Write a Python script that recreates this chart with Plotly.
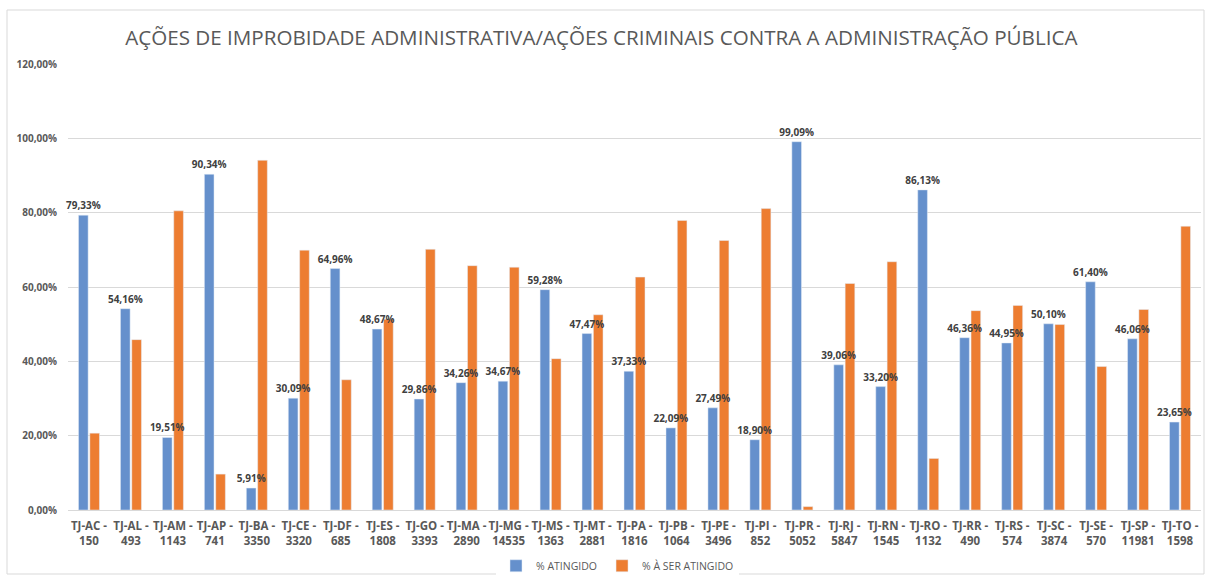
import plotly.graph_objects as go

categories = ["TJ-AC -<br>150", "TJ-AL -<br>493", "TJ-AM -<br>1143", "TJ-AP -<br>741", "TJ-BA -<br>3350",
              "TJ-CE -<br>3320", "TJ-DF -<br>685", "TJ-ES -<br>1808", "TJ-GO -<br>3393", "TJ-MA -<br>2890",
              "TJ-MG -<br>14535", "TJ-MS -<br>1363", "TJ-MT -<br>2881", "TJ-PA -<br>1816", "TJ-PB -<br>1064",
              "TJ-PE -<br>3496", "TJ-PI -<br>852", "TJ-PR -<br>5052", "TJ-RJ -<br>5847", "TJ-RN -<br>1545",
              "TJ-RO -<br>1132", "TJ-RR -<br>490", "TJ-RS -<br>574", "TJ-SC -<br>3874", "TJ-SE -<br>570",
              "TJ-SP -<br>11981", "TJ-TO -<br>1598"]
atingido = [79.33, 54.16, 19.51, 90.34, 5.91, 30.09, 64.96, 48.67, 29.86, 34.26, 34.67, 59.28, 47.47, 37.33,
            22.09, 27.49, 18.90, 99.09, 39.06, 33.20, 86.13, 46.36, 44.95, 50.10, 61.40, 46.06, 23.65]
a_ser = [20.67, 45.84, 80.49, 9.66, 94.09, 69.91, 35.04, 51.33, 70.14, 65.74, 65.33, 40.72, 52.53, 62.67,
         77.91, 72.51, 81.10, 0.91, 60.94, 66.80, 13.87, 53.64, 55.05, 49.90, 38.60, 53.94, 76.35]
y_ticks = [0, 20, 40, 60, 80, 100, 120]
y_tick_labels = ["0,00%", "20,00%", "40,00%", "60,00%", "80,00%", "100,00%", "120,00%"]

fig = go.Figure()
# orange drawn first so the blue labels sit on top of it
fig.add_trace(go.Bar(
    x=categories, y=a_ser, name="% À SER ATINGIDO", marker_color="#ED7D31",
    offset=0.02, width=0.23,
))
fig.add_trace(go.Bar(
    x=categories, y=atingido, name="% ATINGIDO", marker_color="#6590CC",
    offset=-0.25, width=0.23,
    texttemplate="%{y:.2f}%", textposition="outside", cliponaxis=False, constraintext="none",
    textfont=dict(family="Open Sans", size=10, color="#404040", weight="bold"),
))

fig.update_layout(
    width=1205, height=576,
    separators=",.",
    barmode="overlay",
    paper_bgcolor="white", plot_bgcolor="white",
    margin=dict(l=68, r=4, t=64, b=66, autoexpand=False),
    title=dict(text="AÇÕES DE IMPROBIDADE ADMINISTRATIVA/AÇÕES CRIMINAIS CONTRA A ADMINISTRAÇÃO PÚBLICA",
               x=0.499, xref="container", y=0.935, yref="container", xanchor="center", yanchor="middle",
               font=dict(family="Open Sans", size=20.6, color="#595959")),
    legend=dict(orientation="h", x=0.485, xanchor="center", y=-0.125, yanchor="middle",
                font=dict(family="Open Sans", size=10.5, color="#595959"),
                itemwidth=30, traceorder="reversed"),
    showlegend=True,
)
fig.update_yaxes(range=[0, 120], tickvals=y_ticks, ticktext=y_tick_labels,
                 showgrid=True, gridcolor="#D9D9D9", gridwidth=1, zeroline=False,
                 tickfont=dict(family="Open Sans", size=10, color="#595959", weight="bold"),
                 ticklabelstandoff=10, showline=False)
fig.update_xaxes(showline=True, linecolor="#D9D9D9", linewidth=1,
                 tickfont=dict(family="Open Sans", size=11.5, color="#595959", weight="bold"),
                 tickangle=0, ticks="", ticklabelstandoff=5)
fig.add_shape(type="rect", xref="paper", yref="paper",
              x0=-61/1133, x1=1+3/1133, y0=-64/446, y1=1+54/446,
              line=dict(color="#D9D9D9", width=1))
fig.write_html("out.html")
